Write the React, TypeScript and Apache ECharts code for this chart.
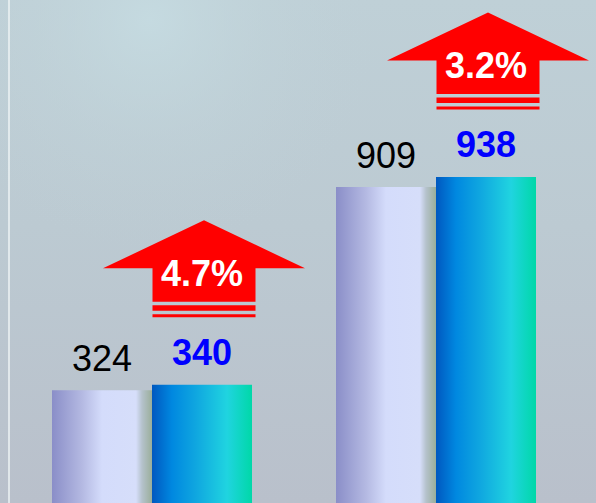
import React, { useEffect, useRef } from "react";
import * as echarts from "echarts";

const categories = ["A", "B"];
const previousValues = [324, 909];
const currentValues = [340, 938];
const growthLabels = ["4.7%", "3.2%"];

export default function App() {
  const ref = useRef<HTMLDivElement>(null);
  useEffect(() => {
    if (!ref.current) return;
    const chart = echarts.init(ref.current, undefined, { renderer: "svg" });
    const font = "'Liberation Sans', Arial, sans-serif";
    const arrowData = currentValues.map((v, i) => [i, v, growthLabels[i]]);
    chart.setOption({
      animation: false,
      backgroundColor: {
        type: "linear",
        x: 0,
        y: 0,
        x2: 0,
        y2: 1,
        colorStops: [
          { offset: 0, color: "#bfd0d7" },
          { offset: 0.45, color: "#bccad2" },
          { offset: 1, color: "#b9c0cb" },
        ],
      },
      graphic: [
        {
          type: "circle",
          z: -10,
          silent: true,
          shape: { cx: 150, cy: 20, r: 230 },
          style: {
            fill: {
              type: "radial",
              x: 0.5,
              y: 0.5,
              r: 0.5,
              colorStops: [
                { offset: 0, color: "rgba(198,220,226,0.85)" },
                { offset: 0.5, color: "rgba(194,214,220,0.35)" },
                { offset: 1, color: "rgba(190,208,215,0)" },
              ],
            },
          },
        },
      ],
      grid: { left: 10, right: 18, top: 0, bottom: 0 },
      xAxis: {
        type: "category",
        data: categories,
        axisLine: { show: false },
        axisTick: { show: false },
        axisLabel: { show: false },
      },
      yAxis: {
        type: "value",
        min: 0,
        max: 1447,
        offset: 1,
        splitLine: { show: false },
        axisLabel: { show: false },
        axisTick: { show: false },
        axisLine: { show: true, lineStyle: { color: "#eef3f5", width: 1.5 } },
      },
      series: [
        {
          type: "bar",
          data: previousValues,
          barWidth: 100,
          barGap: "0%",
          itemStyle: {
            color: new echarts.graphic.LinearGradient(0, 0, 1, 0, [
              { offset: 0, color: "#8a8ec8" },
              { offset: 0.3, color: "#b4b9e2" },
              { offset: 0.5, color: "#d4dcfb" },
              { offset: 0.84, color: "#d6defa" },
              { offset: 0.9, color: "#b5c2cc" },
              { offset: 1, color: "#9aae9a" },
            ]),
          },
          label: {
            show: true,
            position: "top",
            distance: 14,
            color: "#000000",
            fontSize: 36,
            fontFamily: font,
          },
        },
        {
          type: "bar",
          data: currentValues,
          barWidth: 100,
          barGap: "0%",
          itemStyle: {
            color: new echarts.graphic.LinearGradient(0, 0, 1, 0, [
              { offset: 0, color: "#0058c0" },
              { offset: 0.2, color: "#0088e0" },
              { offset: 0.45, color: "#10a8e0" },
              { offset: 0.75, color: "#20d4e0" },
              { offset: 1, color: "#00d8a8" },
            ]),
          },
          label: {
            show: true,
            position: "top",
            distance: 14,
            color: "#0000ff",
            fontWeight: "bold",
            fontSize: 36,
            fontFamily: font,
          },
        },
        {
          type: "custom",
          clip: false,
          silent: true,
          data: arrowData,
          encode: { x: 0, y: 1 },
          z: 10,
          renderItem: (params: any, api: any) => {
            const p = api.coord([api.value(0), api.value(1)]);
            const cx = p[0] + 52;
            const a = p[1] - 67.5;
            const red = "#ff0000";
            return {
              type: "group",
              children: [
                {
                  type: "polygon",
                  shape: {
                    points: [
                      [cx, a - 97],
                      [cx + 101, a - 49],
                      [cx + 51.5, a - 49],
                      [cx + 51.5, a - 15.5],
                      [cx - 51.5, a - 15.5],
                      [cx - 51.5, a - 49],
                      [cx - 101, a - 49],
                    ],
                  },
                  style: { fill: red },
                },
                {
                  type: "rect",
                  shape: { x: cx - 51.5, y: a - 12, width: 103, height: 5.5 },
                  style: { fill: red },
                },
                {
                  type: "rect",
                  shape: { x: cx - 51.5, y: a - 3, width: 103, height: 3 },
                  style: { fill: red },
                },
                {
                  type: "text",
                  style: {
                    x: cx - 2,
                    y: a - 44,
                    text: api.value(2),
                    fill: "#ffffff",
                    fontSize: 36,
                    fontWeight: "bold",
                    fontFamily: font,
                    align: "center",
                    verticalAlign: "middle",
                  },
                },
              ],
            };
          },
        },
      ],
    });
    return () => chart.dispose();
  }, []);
  return (
    <div
      ref={ref}
      style={{ position: "fixed", left: 0, top: 0, width: 596, height: 503 }}
    />
  );
}
